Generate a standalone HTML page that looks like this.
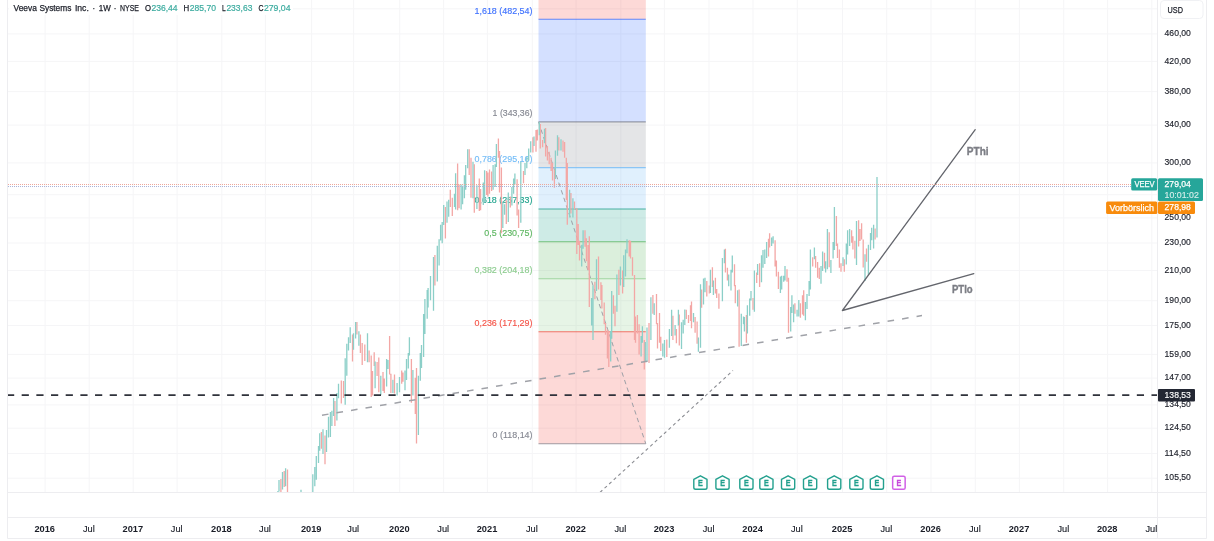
<!DOCTYPE html>
<html lang="de">
<head>
<meta charset="utf-8">
<title>Veeva Systems Inc. · 1W · NYSE</title>
<style>
html,body{margin:0;padding:0;background:#fff;}
body{width:1214px;height:541px;overflow:hidden;}
svg{display:block;font-family:"Liberation Sans", sans-serif;}
</style>
</head>
<body>
<svg width="1214" height="541" viewBox="0 0 1214 541">
<rect x="0" y="0" width="1214" height="541" fill="#ffffff"/>
<path d="M8 8.8H1157 M8 33.9H1157 M8 61.4H1157 M8 91.6H1157 M8 125.1H1157 M8 162.9H1157 M8 194.7H1157 M8 217.9H1157 M8 243.0H1157 M8 270.5H1157 M8 300.7H1157 M8 325.5H1157 M8 354.4H1157 M8 378.1H1157 M8 404.9H1157 M8 428.2H1157 M8 453.5H1157 M8 478.2H1157 M45.1 0V492 M89.2 0V492 M133.2 0V492 M177.1 0V492 M221.8 0V492 M265.4 0V492 M311.6 0V492 M353.6 0V492 M399.7 0V492 M443.6 0V492 M487.4 0V492 M532.3 0V492 M576.1 0V492 M620.8 0V492 M664.4 0V492 M709.0 0V492 M753.0 0V492 M797.3 0V492 M842.5 0V492 M886.7 0V492 M931.0 0V492 M975.3 0V492 M1019.4 0V492 M1063.7 0V492 M1107.6 0V492 M1151.8 0V492" stroke="#f5f5f7" stroke-width="1" fill="none"/>
<rect x="9" y="2" width="284" height="13" fill="#ffffff"/>
<text y="11.4" font-size="9.1"><tspan x="13.5" textLength="23.4" lengthAdjust="spacingAndGlyphs" fill="#1a1d27" stroke="#1a1d27" stroke-width="0.25">Veeva</tspan> <tspan x="39.4" textLength="32" lengthAdjust="spacingAndGlyphs" fill="#1a1d27" stroke="#1a1d27" stroke-width="0.25">Systems</tspan> <tspan x="74.9" textLength="13.9" lengthAdjust="spacingAndGlyphs" fill="#1a1d27" stroke="#1a1d27" stroke-width="0.25">Inc.</tspan> <tspan x="92.6" textLength="2.6" lengthAdjust="spacingAndGlyphs" fill="#1a1d27" stroke="#1a1d27" stroke-width="0.25">·</tspan> <tspan x="98.8" textLength="12" lengthAdjust="spacingAndGlyphs" fill="#1a1d27" stroke="#1a1d27" stroke-width="0.25">1W</tspan> <tspan x="113.8" textLength="2.6" lengthAdjust="spacingAndGlyphs" fill="#1a1d27" stroke="#1a1d27" stroke-width="0.25">·</tspan> <tspan x="120" textLength="18.9" lengthAdjust="spacingAndGlyphs" fill="#1a1d27" stroke="#1a1d27" stroke-width="0.25">NYSE</tspan> <tspan x="144.9" textLength="6" lengthAdjust="spacingAndGlyphs" fill="#1a1d27" stroke="#1a1d27" stroke-width="0.25">O</tspan><tspan x="151.4" textLength="26.2" lengthAdjust="spacingAndGlyphs" fill="#3bab9f" stroke="#3bab9f" stroke-width="0.2">236,44</tspan> <tspan x="183.6" textLength="5.7" lengthAdjust="spacingAndGlyphs" fill="#1a1d27" stroke="#1a1d27" stroke-width="0.25">H</tspan><tspan x="189.8" textLength="26.2" lengthAdjust="spacingAndGlyphs" fill="#3bab9f" stroke="#3bab9f" stroke-width="0.2">285,70</tspan> <tspan x="222" textLength="3.7" lengthAdjust="spacingAndGlyphs" fill="#1a1d27" stroke="#1a1d27" stroke-width="0.25">L</tspan><tspan x="226.4" textLength="26" lengthAdjust="spacingAndGlyphs" fill="#3bab9f" stroke="#3bab9f" stroke-width="0.2">233,63</tspan> <tspan x="258.4" textLength="5" lengthAdjust="spacingAndGlyphs" fill="#1a1d27" stroke="#1a1d27" stroke-width="0.25">C</tspan><tspan x="263.9" textLength="26.7" lengthAdjust="spacingAndGlyphs" fill="#3bab9f" stroke="#3bab9f" stroke-width="0.2">279,04</tspan></text>
<rect x="538.5" y="331.7" width="107.3" height="112.1" fill="#f44336" fill-opacity="0.2"/>
<rect x="538.5" y="278.8" width="107.3" height="53.0" fill="#81c784" fill-opacity="0.2"/>
<rect x="538.5" y="241.8" width="107.3" height="36.9" fill="#4caf50" fill-opacity="0.2"/>
<rect x="538.5" y="209.0" width="107.3" height="32.9" fill="#089981" fill-opacity="0.2"/>
<rect x="538.5" y="167.6" width="107.3" height="41.4" fill="#64b5f6" fill-opacity="0.2"/>
<rect x="538.5" y="121.9" width="107.3" height="45.6" fill="#787b86" fill-opacity="0.2"/>
<rect x="538.5" y="19.3" width="107.3" height="102.7" fill="#2962ff" fill-opacity="0.2"/>
<rect x="538.5" y="0" width="107.3" height="19.3" fill="#f44336" fill-opacity="0.2"/>
<line x1="538.5" y1="443.8" x2="645.8" y2="443.8" stroke="#787b86" stroke-width="1.1" stroke-opacity="0.7"/>
<line x1="538.5" y1="331.7" x2="645.8" y2="331.7" stroke="#f44336" stroke-width="1.1" stroke-opacity="0.7"/>
<line x1="538.5" y1="278.8" x2="645.8" y2="278.8" stroke="#81c784" stroke-width="1.1" stroke-opacity="0.7"/>
<line x1="538.5" y1="241.8" x2="645.8" y2="241.8" stroke="#4caf50" stroke-width="1.1" stroke-opacity="0.7"/>
<line x1="538.5" y1="209.0" x2="645.8" y2="209.0" stroke="#089981" stroke-width="1.1" stroke-opacity="0.7"/>
<line x1="538.5" y1="167.6" x2="645.8" y2="167.6" stroke="#64b5f6" stroke-width="1.1" stroke-opacity="0.7"/>
<line x1="538.5" y1="121.9" x2="645.8" y2="121.9" stroke="#787b86" stroke-width="1.1" stroke-opacity="0.7"/>
<line x1="538.5" y1="19.3" x2="645.8" y2="19.3" stroke="#2962ff" stroke-width="1.1" stroke-opacity="0.7"/>
<text x="474.5" y="13.5" font-size="9.2" fill="#2962ff" textLength="58.0" lengthAdjust="spacingAndGlyphs" stroke="#2962ff" stroke-width="0.15" opacity="0.9">1,618 (482,54)</text>
<text x="492.6" y="116.1" font-size="9.2" fill="#787b86" textLength="39.9" lengthAdjust="spacingAndGlyphs" stroke="#787b86" stroke-width="0.15" opacity="0.9">1 (343,36)</text>
<text x="474.5" y="161.8" font-size="9.2" fill="#64b5f6" textLength="58.0" lengthAdjust="spacingAndGlyphs" stroke="#64b5f6" stroke-width="0.15" opacity="0.9">0,786 (295,16)</text>
<text x="474.5" y="203.2" font-size="9.2" fill="#089981" textLength="58.0" lengthAdjust="spacingAndGlyphs" stroke="#089981" stroke-width="0.15" opacity="0.9">0,618 (257,33)</text>
<text x="484.3" y="236.0" font-size="9.2" fill="#4caf50" textLength="48.2" lengthAdjust="spacingAndGlyphs" stroke="#4caf50" stroke-width="0.15" opacity="0.9">0,5 (230,75)</text>
<text x="474.5" y="273.0" font-size="9.2" fill="#81c784" textLength="58.0" lengthAdjust="spacingAndGlyphs" stroke="#81c784" stroke-width="0.15" opacity="0.9">0,382 (204,18)</text>
<text x="474.5" y="325.9" font-size="9.2" fill="#f44336" textLength="58.0" lengthAdjust="spacingAndGlyphs" stroke="#f44336" stroke-width="0.15" opacity="0.9">0,236 (171,29)</text>
<text x="492.6" y="438.0" font-size="9.2" fill="#787b86" textLength="39.9" lengthAdjust="spacingAndGlyphs" stroke="#787b86" stroke-width="0.15" opacity="0.9">0 (118,14)</text>
<line x1="538.5" y1="121.9" x2="645.8" y2="443.8" stroke="#9c9fa6" stroke-width="1" stroke-dasharray="4.5 3.5"/>
<g fill="none" stroke-width="1.3"><path d="M280.9 479.0V492.0M284.2 471.0V487.0M287.5 469.4V492.0M321.4 431.9V448.7M325.0 435.5V464.3M334.9 400.9V425.9M341.3 380.4V403.5M343.5 381.0V398.0M352.5 334.5V361.6M356.9 322.0V334.5M360.4 334.5V353.0M362.2 343.1V364.9M364.8 344.4V360.9M369.1 350.4V362.2M371.2 355.6V396.9M372.5 371.0V395.6M374.2 352.3V366.0M377.1 362.0V376.0M378.8 357.6V392.3M383.0 371.9V391.0M384.3 378.5V393.0M389.6 335.9V374.5M390.9 373.8V392.9M394.5 374.5V393.6M401.7 370.5V383.7M403.0 372.5V381.7M411.4 358.9V402.8M415.3 377.8V414.0M416.5 367.9V443.5M434.9 255.0V285.4M445.4 206.9V238.5M450.3 189.8V206.9M452.3 197.7V216.0M457.6 163.6V210.2M459.1 184.5V208.2M469.2 149.2V175.0M471.0 157.7V197.7M474.3 164.3V212.8M479.3 178.6V210.9M480.6 189.1V210.2M486.6 171.0V195.0M487.9 172.6V196.4M489.5 169.6V193.7M491.6 171.5V191.0M498.4 138.6V157.7M499.5 151.0V192.4M501.4 167.6V233.3M506.3 200.3V224.0M510.3 196.4V207.6M517.1 179.2V215.5M518.6 209.5V228.0M523.5 171.0V183.2M532.9 137.3V152.4M536.0 130.0V151.8M537.3 129.4V140.6M540.3 124.1V148.5M542.6 140.0V147.2M545.6 128.0V156.4M547.4 145.9V160.4M549.2 151.8V164.3M551.1 157.7V170.9M552.5 163.0V180.5M554.4 169.6V187.8M558.8 137.3V150.5M563.0 140.6V151.8M564.6 141.9V157.7M566.3 157.7V200.0M567.3 163.0V224.7M570.9 193.0V213.5M574.5 201.6V209.5M576.8 208.2V254.0M578.2 224.0V245.0M579.5 240.8V260.6M585.0 230.3V246.7M586.4 238.2V261.2M588.0 245.0V270.0M589.3 236.2V307.1M594.9 281.7V299.2M598.5 256.6V289.6M600.9 282.3V299.9M601.9 285.0V308.5M604.2 302.5V324.3M605.5 323.0V334.8M607.4 329.5V358.5M608.8 330.9V366.9M613.4 295.3V313.7M615.0 305.8V326.2M618.9 269.8V294.9M622.6 270.5V293.5M629.2 240.2V256.6M630.5 240.8V258.6M632.5 257.3V275.7M634.5 275.0V340.1M635.5 316.4V342.7M637.4 315.0V333.5M639.1 324.3V354.4M644.3 340.1V369.5M649.0 323.0V363.0M652.9 295.0V313.7M656.5 294.0V324.3M657.5 323.0V348.5M659.5 313.1V342.7M660.8 336.8V351.0M666.8 339.4V357.0M672.9 315.7V339.9M676.4 328.9V343.2M679.3 314.4V345.4M686.3 309.8V319.0M688.5 315.0V323.0M690.5 305.2V321.0M691.5 301.6V328.2M695.1 317.0V332.8M697.1 321.6V343.8M701.6 289.6V307.8M706.8 281.0V296.6M709.3 285.6V293.5M712.4 267.2V287.0M715.4 277.7V293.5M716.7 289.0V298.0M718.9 293.5V308.8M725.4 248.7V272.4M727.4 267.8V280.4M734.5 264.3V286.3M735.3 285.0V303.2M739.1 289.6V346.7M746.4 315.0V342.7M753.0 297.9V309.8M756.7 272.4V283.0M759.6 263.2V287.0M768.5 238.8V256.6M769.6 233.2V247.4M775.1 240.2V266.5M776.4 260.6V276.4M778.4 271.8V289.0M787.0 269.2V281.7M788.5 277.7V332.8M794.9 303.2V313.7M800.4 303.2V317.7M802.5 295.3V314.4M803.7 290.2V315.7M812.7 257.3V266.5M815.6 256.0V267.8M817.6 261.9V277.7M819.3 267.8V279.0M824.5 252.7V268.5M829.2 232.2V267.2M836.4 216.1V246.0M837.5 243.5V258.0M839.4 249.4V267.8M841.0 263.2V271.8M844.3 259.3V271.8M851.6 230.3V242.8M852.9 236.2V249.4M854.9 240.8V258.6M858.6 220.2V246.5M860.0 229.0V241.0M861.6 223.3V239.6M863.2 239.6V267.6M866.5 248.4V261.7M875.1 228.5V239.6" stroke="#f3a7a5"/><path d="M277.9 491.0V492.0M279.0 480.1V491.6M282.5 472.0V489.6M285.6 468.2V486.3M301.0 489.8V492.0M312.8 474.2V492.0M314.8 466.9V486.3M316.3 456.0V479.7M318.5 446.0V463.0M319.7 433.2V450.7M323.0 429.2V454.0M326.5 430.0V452.0M328.5 416.7V437.5M330.4 412.0V436.9M331.9 410.7V425.9M333.6 398.0V416.0M336.9 393.0V420.6M338.5 383.7V398.2M345.2 358.3V404.8M346.8 343.8V375.8M348.5 337.2V350.4M350.2 327.3V343.1M353.5 333.2V349.7M355.6 322.0V338.5M358.9 331.2V345.7M367.5 333.2V362.2M375.1 361.6V388.3M380.8 375.8V394.9M386.6 358.9V386.4M388.0 360.0V369.0M392.9 379.8V393.0M397.1 383.0V395.6M399.5 377.0V392.3M405.0 370.5V390.3M406.5 358.9V380.0M408.3 353.0V368.6M409.4 337.2V355.6M412.9 369.9V395.6M418.4 375.8V434.9M420.3 353.0V380.8M421.5 345.1V368.0M423.6 314.1V356.9M424.9 299.0V333.9M427.2 290.0V318.7M428.1 288.0V307.5M430.5 276.0V300.3M433.5 257.0V310.8M437.3 245.8V281.4M439.1 239.2V265.6M440.6 224.7V240.5M442.2 222.0V243.2M443.7 205.0V225.0M447.0 201.6V222.7M448.7 199.7V216.8M454.5 193.7V207.0M455.6 173.3V209.5M461.1 184.5V209.5M462.6 185.8V204.3M464.4 175.3V198.3M465.7 165.0V189.8M467.7 149.2V168.3M473.0 161.7V198.3M476.9 185.2V208.9M483.3 182.5V204.9M484.6 170.2V202.3M493.1 165.0V189.8M495.1 164.3V187.0M496.4 143.9V167.0M502.8 201.6V228.0M504.6 204.3V214.8M508.3 192.4V222.0M511.9 187.0V205.6M513.6 178.6V193.7M514.9 173.5V184.5M520.8 161.7V222.7M525.0 163.0V175.0M526.8 157.0V168.3M528.7 148.5V160.4M530.7 141.2V152.4M534.0 136.6V145.9M539.3 122.1V135.3M544.5 128.7V143.2M555.4 150.5V179.0M557.5 135.3V155.7M561.0 139.3V150.5M569.6 189.8V217.4M572.9 198.3V217.4M581.7 244.8V266.5M583.1 230.3V248.7M591.6 297.9V325.6M593.0 285.6V339.9M596.5 259.3V290.9M610.7 330.9V361.6M611.7 290.9V338.8M616.9 274.4V311.7M620.4 266.5V285.6M623.7 255.3V287.0M625.5 249.4V276.4M627.0 239.2V253.3M641.1 336.1V356.4M642.4 326.2V342.7M645.3 342.0V362.0M647.0 327.6V361.6M650.9 297.2V340.1M654.2 303.2V315.0M662.8 343.4V356.4M664.5 340.1V357.7M669.4 328.9V347.8M671.6 309.8V336.1M675.1 324.9V335.5M678.4 309.8V325.6M681.5 322.3V349.1M683.2 319.7V333.5M684.8 309.5V324.9M693.5 313.0V322.3M698.4 337.4V351.7M700.5 284.3V347.8M703.5 278.4V304.5M705.0 277.7V292.2M710.4 269.8V293.0M713.4 280.4V295.0M722.4 258.0V301.2M724.4 249.4V263.2M728.7 274.4V286.3M731.0 269.8V290.5M732.3 255.6V272.4M737.6 290.2V306.5M741.3 313.7V346.0M743.5 316.4V324.3M744.4 317.0V331.5M747.4 305.2V333.5M749.7 298.6V315.7M751.0 290.9V300.5M754.4 270.5V311.7M757.6 263.9V275.0M761.5 255.3V282.3M763.0 250.0V267.8M764.8 249.4V263.9M766.6 242.1V258.0M771.6 237.5V246.0M773.1 236.2V243.5M780.4 276.4V292.9M781.7 275.7V289.6M783.7 275.7V281.7M785.0 265.9V280.4M790.7 307.1V331.5M791.9 295.3V313.0M793.6 304.5V322.3M797.1 309.8V316.4M798.8 299.9V316.4M805.4 301.9V320.3M807.0 294.0V309.1M809.1 281.0V296.0M810.4 249.4V289.6M814.4 247.4V259.3M821.0 265.9V283.7M822.6 251.4V271.1M825.6 261.2V272.4M827.4 228.9V269.2M830.9 259.9V273.1M833.1 242.1V258.6M834.4 206.9V250.0M843.0 257.3V265.9M846.3 243.5V264.5M847.6 230.3V254.6M849.6 229.0V246.0M856.5 221.0V265.0M865.0 254.3V280.9M868.4 244.7V275.0M870.5 232.9V249.9M871.7 227.7V240.3M873.6 224.8V248.4M877.0 177.0V237.4" stroke="#8ccfc8"/></g>
<line x1="322" y1="415.2" x2="922" y2="315.6" stroke="#a0a2a8" stroke-width="1.5" stroke-dasharray="6.6 8.1"/>
<line x1="600" y1="492.4" x2="733" y2="370.5" stroke="#8a8c92" stroke-width="1.1" stroke-dasharray="3.2 3"/>
<line x1="7" y1="395.1" x2="1157" y2="395.1" stroke="#2f323b" stroke-width="1.6" stroke-dasharray="7.2 7.473"/>
<path d="M842.4 310.5L975.2 129.7M842.4 310.5L973.8 273.7" stroke="#63656c" stroke-width="1.3" fill="none" stroke-linecap="round"/>
<text x="966.8" y="155.3" font-size="10.3" fill="#7c7e85" font-weight="bold" textLength="21.8" lengthAdjust="spacingAndGlyphs" stroke="#7c7e85" stroke-width="0.35">PThi</text>
<text x="952" y="293.1" font-size="10.3" fill="#7c7e85" font-weight="bold" textLength="20.7" lengthAdjust="spacingAndGlyphs" stroke="#7c7e85" stroke-width="0.35">PTlo</text>
<line x1="8" y1="184.5" x2="1131" y2="184.5" stroke="#efa79a" stroke-width="1" stroke-dasharray="1 1"/>
<line x1="8" y1="186.5" x2="1131" y2="186.5" stroke="#a9b3d8" stroke-width="1" stroke-dasharray="1 1"/>
<path d="M693.8 479.4L700.4 475.8L707.0 479.4V487.4Q707.0 489.2 705.2 489.2H695.6Q693.8 489.2 693.8 487.4Z" fill="#ffffff" stroke="#23a08e" stroke-width="1.4" stroke-linejoin="round"/>
<text x="698.1" y="486.2" font-size="8.6" fill="#23a08e" font-weight="bold" textLength="4.8" lengthAdjust="spacingAndGlyphs" stroke="#23a08e" stroke-width="0.3">E</text>
<path d="M715.9 479.4L722.5 475.8L729.1 479.4V487.4Q729.1 489.2 727.3 489.2H717.7Q715.9 489.2 715.9 487.4Z" fill="#ffffff" stroke="#23a08e" stroke-width="1.4" stroke-linejoin="round"/>
<text x="720.2" y="486.2" font-size="8.6" fill="#23a08e" font-weight="bold" textLength="4.8" lengthAdjust="spacingAndGlyphs" stroke="#23a08e" stroke-width="0.3">E</text>
<path d="M739.8 479.4L746.4 475.8L753.0 479.4V487.4Q753.0 489.2 751.2 489.2H741.6Q739.8 489.2 739.8 487.4Z" fill="#ffffff" stroke="#23a08e" stroke-width="1.4" stroke-linejoin="round"/>
<text x="744.1" y="486.2" font-size="8.6" fill="#23a08e" font-weight="bold" textLength="4.8" lengthAdjust="spacingAndGlyphs" stroke="#23a08e" stroke-width="0.3">E</text>
<path d="M759.8 479.4L766.4 475.8L773.0 479.4V487.4Q773.0 489.2 771.2 489.2H761.6Q759.8 489.2 759.8 487.4Z" fill="#ffffff" stroke="#23a08e" stroke-width="1.4" stroke-linejoin="round"/>
<text x="764.1" y="486.2" font-size="8.6" fill="#23a08e" font-weight="bold" textLength="4.8" lengthAdjust="spacingAndGlyphs" stroke="#23a08e" stroke-width="0.3">E</text>
<path d="M781.5 479.4L788.1 475.8L794.7 479.4V487.4Q794.7 489.2 792.9 489.2H783.3Q781.5 489.2 781.5 487.4Z" fill="#ffffff" stroke="#23a08e" stroke-width="1.4" stroke-linejoin="round"/>
<text x="785.8" y="486.2" font-size="8.6" fill="#23a08e" font-weight="bold" textLength="4.8" lengthAdjust="spacingAndGlyphs" stroke="#23a08e" stroke-width="0.3">E</text>
<path d="M803.5 479.4L810.1 475.8L816.7 479.4V487.4Q816.7 489.2 814.9 489.2H805.3Q803.5 489.2 803.5 487.4Z" fill="#ffffff" stroke="#23a08e" stroke-width="1.4" stroke-linejoin="round"/>
<text x="807.8" y="486.2" font-size="8.6" fill="#23a08e" font-weight="bold" textLength="4.8" lengthAdjust="spacingAndGlyphs" stroke="#23a08e" stroke-width="0.3">E</text>
<path d="M827.6 479.4L834.2 475.8L840.8 479.4V487.4Q840.8 489.2 839.0 489.2H829.4Q827.6 489.2 827.6 487.4Z" fill="#ffffff" stroke="#23a08e" stroke-width="1.4" stroke-linejoin="round"/>
<text x="831.9" y="486.2" font-size="8.6" fill="#23a08e" font-weight="bold" textLength="4.8" lengthAdjust="spacingAndGlyphs" stroke="#23a08e" stroke-width="0.3">E</text>
<path d="M849.8 479.4L856.4 475.8L863.0 479.4V487.4Q863.0 489.2 861.2 489.2H851.6Q849.8 489.2 849.8 487.4Z" fill="#ffffff" stroke="#23a08e" stroke-width="1.4" stroke-linejoin="round"/>
<text x="854.1" y="486.2" font-size="8.6" fill="#23a08e" font-weight="bold" textLength="4.8" lengthAdjust="spacingAndGlyphs" stroke="#23a08e" stroke-width="0.3">E</text>
<path d="M870.3 479.4L876.9 475.8L883.5 479.4V487.4Q883.5 489.2 881.7 489.2H872.1Q870.3 489.2 870.3 487.4Z" fill="#ffffff" stroke="#23a08e" stroke-width="1.4" stroke-linejoin="round"/>
<text x="874.6" y="486.2" font-size="8.6" fill="#23a08e" font-weight="bold" textLength="4.8" lengthAdjust="spacingAndGlyphs" stroke="#23a08e" stroke-width="0.3">E</text>
<rect x="892.65" y="476.25" width="12.5" height="13" rx="1.6" fill="#ffffff" stroke="#d160e6" stroke-width="1.5"/>
<text x="896.6" y="486.2" font-size="8.6" fill="#c74adb" font-weight="bold" textLength="4.8" lengthAdjust="spacingAndGlyphs" stroke="#c74adb" stroke-width="0.3">E</text>
<rect x="1158" y="0" width="48" height="538" fill="#ffffff"/>
<rect x="0" y="493" width="1214" height="48" fill="#ffffff"/>
<path d="M7.5 0V538.5M1157.5 0V538.5M1206.5 0V538.5M7.5 492.5H1206.5M7.5 517.5H1206.5M7.5 538.5H1206.5" stroke="#ededf0" stroke-width="1" fill="none"/>
<text x="1164.6" y="36.1" font-size="9.7" fill="#1a1d27" textLength="26.3" lengthAdjust="spacingAndGlyphs" stroke="#1a1d27" stroke-width="0.15">460,00</text>
<text x="1164.6" y="63.6" font-size="9.7" fill="#1a1d27" textLength="26.3" lengthAdjust="spacingAndGlyphs" stroke="#1a1d27" stroke-width="0.15">420,00</text>
<text x="1164.6" y="93.8" font-size="9.7" fill="#1a1d27" textLength="26.3" lengthAdjust="spacingAndGlyphs" stroke="#1a1d27" stroke-width="0.15">380,00</text>
<text x="1164.6" y="127.3" font-size="9.7" fill="#1a1d27" textLength="26.3" lengthAdjust="spacingAndGlyphs" stroke="#1a1d27" stroke-width="0.15">340,00</text>
<text x="1164.6" y="165.1" font-size="9.7" fill="#1a1d27" textLength="26.3" lengthAdjust="spacingAndGlyphs" stroke="#1a1d27" stroke-width="0.15">300,00</text>
<text x="1164.6" y="220.1" font-size="9.7" fill="#1a1d27" textLength="26.3" lengthAdjust="spacingAndGlyphs" stroke="#1a1d27" stroke-width="0.15">250,00</text>
<text x="1164.6" y="245.2" font-size="9.7" fill="#1a1d27" textLength="26.3" lengthAdjust="spacingAndGlyphs" stroke="#1a1d27" stroke-width="0.15">230,00</text>
<text x="1164.6" y="272.7" font-size="9.7" fill="#1a1d27" textLength="26.3" lengthAdjust="spacingAndGlyphs" stroke="#1a1d27" stroke-width="0.15">210,00</text>
<text x="1164.6" y="302.9" font-size="9.7" fill="#1a1d27" textLength="26.3" lengthAdjust="spacingAndGlyphs" stroke="#1a1d27" stroke-width="0.15">190,00</text>
<text x="1164.6" y="327.7" font-size="9.7" fill="#1a1d27" textLength="26.3" lengthAdjust="spacingAndGlyphs" stroke="#1a1d27" stroke-width="0.15">175,00</text>
<text x="1164.6" y="356.6" font-size="9.7" fill="#1a1d27" textLength="26.3" lengthAdjust="spacingAndGlyphs" stroke="#1a1d27" stroke-width="0.15">159,00</text>
<text x="1164.6" y="380.3" font-size="9.7" fill="#1a1d27" textLength="26.3" lengthAdjust="spacingAndGlyphs" stroke="#1a1d27" stroke-width="0.15">147,00</text>
<text x="1164.6" y="407.1" font-size="9.7" fill="#1a1d27" textLength="26.3" lengthAdjust="spacingAndGlyphs" stroke="#1a1d27" stroke-width="0.15">134,50</text>
<text x="1164.6" y="430.4" font-size="9.7" fill="#1a1d27" textLength="26.3" lengthAdjust="spacingAndGlyphs" stroke="#1a1d27" stroke-width="0.15">124,50</text>
<text x="1164.6" y="455.7" font-size="9.7" fill="#1a1d27" textLength="26.3" lengthAdjust="spacingAndGlyphs" stroke="#1a1d27" stroke-width="0.15">114,50</text>
<text x="1164.6" y="480.4" font-size="9.7" fill="#1a1d27" textLength="26.3" lengthAdjust="spacingAndGlyphs" stroke="#1a1d27" stroke-width="0.15">105,50</text>
<rect x="1158" y="389" width="37" height="12.4" rx="1" fill="#232733"/>
<text x="1164.6" y="398.2" font-size="9.7" fill="#ffffff" textLength="26.3" lengthAdjust="spacingAndGlyphs" stroke="#ffffff" stroke-width="0.15">138,53</text>
<rect x="1131.2" y="178.2" width="26" height="12.3" rx="1.5" fill="#26a69a"/>
<text x="1134.4" y="187.3" font-size="9.3" fill="#ffffff" textLength="20.2" lengthAdjust="spacingAndGlyphs" stroke="#ffffff" stroke-width="0.25">VEEV</text>
<rect x="1158" y="178.2" width="45" height="22.8" rx="1.5" fill="#26a69a"/>
<text x="1164.6" y="186.8" font-size="9.7" fill="#ffffff" textLength="26.3" lengthAdjust="spacingAndGlyphs" stroke="#ffffff" stroke-width="0.25">279,04</text>
<text x="1164.6" y="197.6" font-size="9.7" fill="#d4edea" textLength="34.2" lengthAdjust="spacingAndGlyphs" stroke="#d4edea" stroke-width="0.15">10:01:02</text>
<rect x="1106.1" y="201.6" width="51.2" height="12.3" rx="1.5" fill="#f88b0c"/>
<text x="1109.6" y="210.8" font-size="9.3" fill="#ffffff" textLength="44.5" lengthAdjust="spacingAndGlyphs" stroke="#ffffff" stroke-width="0.25">Vorbörslich</text>
<rect x="1158" y="201.6" width="37" height="12.3" rx="1.5" fill="#f88b0c"/>
<text x="1164.6" y="210.3" font-size="9.7" fill="#ffffff" textLength="26.3" lengthAdjust="spacingAndGlyphs" stroke="#ffffff" stroke-width="0.25">278,98</text>
<rect x="1160.5" y="0.5" width="42.5" height="18" rx="3.5" fill="#ffffff" stroke="#f0f1f4" stroke-width="1"/>
<text x="1167.6" y="12.7" font-size="9.5" fill="#1a1d27" textLength="15.4" lengthAdjust="spacingAndGlyphs" stroke="#1a1d27" stroke-width="0.25">USD</text>
<text x="44.7" y="531.7" font-size="9.2" fill="#1a1d27" text-anchor="middle" font-weight="bold" textLength="20.6" lengthAdjust="spacingAndGlyphs">2016</text>
<text x="88.8" y="531.7" font-size="9.2" fill="#1a1d27" text-anchor="middle" textLength="11.8" lengthAdjust="spacingAndGlyphs" stroke="#1a1d27" stroke-width="0.15">Jul</text>
<text x="132.8" y="531.7" font-size="9.2" fill="#1a1d27" text-anchor="middle" font-weight="bold" textLength="20.6" lengthAdjust="spacingAndGlyphs">2017</text>
<text x="176.7" y="531.7" font-size="9.2" fill="#1a1d27" text-anchor="middle" textLength="11.8" lengthAdjust="spacingAndGlyphs" stroke="#1a1d27" stroke-width="0.15">Jul</text>
<text x="221.4" y="531.7" font-size="9.2" fill="#1a1d27" text-anchor="middle" font-weight="bold" textLength="20.6" lengthAdjust="spacingAndGlyphs">2018</text>
<text x="265.0" y="531.7" font-size="9.2" fill="#1a1d27" text-anchor="middle" textLength="11.8" lengthAdjust="spacingAndGlyphs" stroke="#1a1d27" stroke-width="0.15">Jul</text>
<text x="311.2" y="531.7" font-size="9.2" fill="#1a1d27" text-anchor="middle" font-weight="bold" textLength="20.6" lengthAdjust="spacingAndGlyphs">2019</text>
<text x="353.2" y="531.7" font-size="9.2" fill="#1a1d27" text-anchor="middle" textLength="11.8" lengthAdjust="spacingAndGlyphs" stroke="#1a1d27" stroke-width="0.15">Jul</text>
<text x="399.3" y="531.7" font-size="9.2" fill="#1a1d27" text-anchor="middle" font-weight="bold" textLength="20.6" lengthAdjust="spacingAndGlyphs">2020</text>
<text x="443.2" y="531.7" font-size="9.2" fill="#1a1d27" text-anchor="middle" textLength="11.8" lengthAdjust="spacingAndGlyphs" stroke="#1a1d27" stroke-width="0.15">Jul</text>
<text x="487.0" y="531.7" font-size="9.2" fill="#1a1d27" text-anchor="middle" font-weight="bold" textLength="20.6" lengthAdjust="spacingAndGlyphs">2021</text>
<text x="531.9" y="531.7" font-size="9.2" fill="#1a1d27" text-anchor="middle" textLength="11.8" lengthAdjust="spacingAndGlyphs" stroke="#1a1d27" stroke-width="0.15">Jul</text>
<text x="575.7" y="531.7" font-size="9.2" fill="#1a1d27" text-anchor="middle" font-weight="bold" textLength="20.6" lengthAdjust="spacingAndGlyphs">2022</text>
<text x="620.4" y="531.7" font-size="9.2" fill="#1a1d27" text-anchor="middle" textLength="11.8" lengthAdjust="spacingAndGlyphs" stroke="#1a1d27" stroke-width="0.15">Jul</text>
<text x="664.0" y="531.7" font-size="9.2" fill="#1a1d27" text-anchor="middle" font-weight="bold" textLength="20.6" lengthAdjust="spacingAndGlyphs">2023</text>
<text x="708.6" y="531.7" font-size="9.2" fill="#1a1d27" text-anchor="middle" textLength="11.8" lengthAdjust="spacingAndGlyphs" stroke="#1a1d27" stroke-width="0.15">Jul</text>
<text x="752.6" y="531.7" font-size="9.2" fill="#1a1d27" text-anchor="middle" font-weight="bold" textLength="20.6" lengthAdjust="spacingAndGlyphs">2024</text>
<text x="796.9" y="531.7" font-size="9.2" fill="#1a1d27" text-anchor="middle" textLength="11.8" lengthAdjust="spacingAndGlyphs" stroke="#1a1d27" stroke-width="0.15">Jul</text>
<text x="842.1" y="531.7" font-size="9.2" fill="#1a1d27" text-anchor="middle" font-weight="bold" textLength="20.6" lengthAdjust="spacingAndGlyphs">2025</text>
<text x="886.3" y="531.7" font-size="9.2" fill="#1a1d27" text-anchor="middle" textLength="11.8" lengthAdjust="spacingAndGlyphs" stroke="#1a1d27" stroke-width="0.15">Jul</text>
<text x="930.6" y="531.7" font-size="9.2" fill="#1a1d27" text-anchor="middle" font-weight="bold" textLength="20.6" lengthAdjust="spacingAndGlyphs">2026</text>
<text x="974.9" y="531.7" font-size="9.2" fill="#1a1d27" text-anchor="middle" textLength="11.8" lengthAdjust="spacingAndGlyphs" stroke="#1a1d27" stroke-width="0.15">Jul</text>
<text x="1019.0" y="531.7" font-size="9.2" fill="#1a1d27" text-anchor="middle" font-weight="bold" textLength="20.6" lengthAdjust="spacingAndGlyphs">2027</text>
<text x="1063.3" y="531.7" font-size="9.2" fill="#1a1d27" text-anchor="middle" textLength="11.8" lengthAdjust="spacingAndGlyphs" stroke="#1a1d27" stroke-width="0.15">Jul</text>
<text x="1107.2" y="531.7" font-size="9.2" fill="#1a1d27" text-anchor="middle" font-weight="bold" textLength="20.6" lengthAdjust="spacingAndGlyphs">2028</text>
<text x="1151.4" y="531.7" font-size="9.2" fill="#1a1d27" text-anchor="middle" textLength="11.8" lengthAdjust="spacingAndGlyphs" stroke="#1a1d27" stroke-width="0.15">Jul</text>
</svg>
</body>
</html>
